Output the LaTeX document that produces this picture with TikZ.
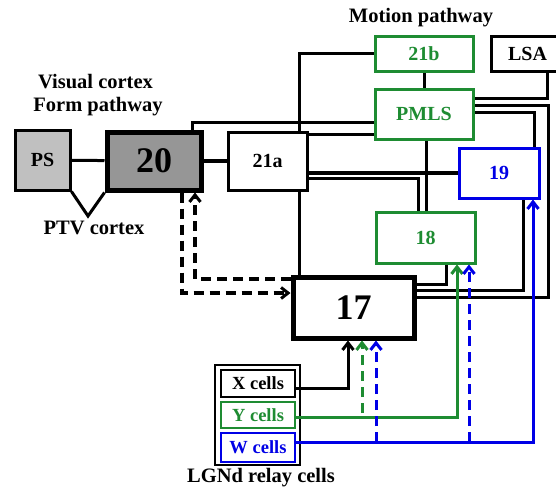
\documentclass[tikz,border=0pt]{standalone}
\usepackage{fontspec}
\setmainfont{Liberation Serif}
\usetikzlibrary{arrows.meta}
\definecolor{pgreen}{RGB}{30,140,50}
\definecolor{pblue}{RGB}{0,0,230}
\definecolor{psgray}{RGB}{192,192,192}
\definecolor{dgray}{RGB}{150,150,150}
\pgfdeclarelayer{bg}
\pgfsetlayers{bg,main}
\tikzset{
  box/.style={draw, line width=3pt, fill=white, inner sep=0pt, font=\fontsize{20}{22}\selectfont\bfseries},
  bigbox/.style={box, line width=5pt, font=\fontsize{36}{40}\selectfont\bfseries},
  gbox/.style={box, draw=pgreen, text=pgreen},
  bbox/.style={box, draw=pblue, text=pblue},
  conn/.style={line width=3pt},
  arr/.style={-{Straight Barb[length=7pt,width=11pt,line width=3pt]}},
  lbl/.style={font=\fontsize{20.5}{22}\selectfont\bfseries, inner sep=0pt},
  dsh/.style={dashed, dash pattern=on 10pt off 6pt},
}
\begin{document}
\begin{tikzpicture}[x=1pt,y=-1pt]
\useasboundingbox (0,0) rectangle (556,491);
% nodes
\node[box, fill=psgray, minimum width=55pt, minimum height=60pt] (ps) at (42.5,160) {PS};
\node[bigbox, fill=dgray, minimum width=94pt, minimum height=58pt] (n20) at (154,161) {20};
\node[box, minimum width=79pt, minimum height=58pt] (n21a) at (267.5,161) {21a};
\node[gbox, minimum width=98pt, minimum height=35pt] (n21b) at (424,53.5) {21b};
\node[box, minimum width=72pt, minimum height=35pt, anchor=west] (nlsa) at (490,53.5) {LSA\hspace{10pt}};
\node[gbox, minimum width=98pt, minimum height=50pt] (npmls) at (424,114) {PMLS};
\node[bbox, minimum width=80pt, minimum height=50pt] (n19) at (499,173) {19};
\node[gbox, minimum width=99pt, minimum height=51pt] (n18) at (425.5,237.5) {18};
\node[bigbox, minimum width=121pt, minimum height=61pt] (n17) at (353.5,307.5) {17};
\node[draw, line width=2.5pt, minimum width=85pt, minimum height=100pt, inner sep=0pt] (lgn) at (257.5,415) {};
\node[box, line width=2.5pt, minimum width=74pt, minimum height=27pt, font=\fontsize{18.5}{20}\selectfont\bfseries] (xc) at (258,383.5) {X cells};
\node[gbox, line width=2.5pt, minimum width=74pt, minimum height=26pt, font=\fontsize{18.5}{20}\selectfont\bfseries] (yc) at (258,415) {Y cells};
\node[bbox, line width=2.5pt, minimum width=74pt, minimum height=29pt, font=\fontsize{18.5}{20}\selectfont\bfseries] (wc) at (258,447.5) {W cells};
% labels
\node[lbl] (t1) at (95.5,82) {Visual cortex};
\node[lbl] (t2) at (98,107) {Form pathway};
\node[lbl] (t3) at (94,228) {PTV cortex};
\node[lbl] (t4) at (421,18) {Motion pathway};
\node[lbl] (t5) at (261,478) {LGNd relay cells};
\coordinate (ptv) at (88,216);
\begin{pgfonlayer}{bg}
\draw[conn] (ps) -- (n20);
\draw[conn] (ps.south east) -- (ptv) -- (n20.south west);
\draw[line width=4.5pt] (n20) -- (n21a);
\draw[conn] (n21b.west) -| (n17.north -| 299,0);
\draw[conn] (n20.north -| 192,0) |- (npmls.west |- 0,122);
\draw[conn] (n21a.east |- 0,134) -- (npmls.west |- 0,134);
\draw[line width=3.8pt] (n21a.east |- 0,173) -- (n19.west |- 0,173);
\draw[conn] (n21a.east |- 0,178) -| (n18.north -| 418,0);
\draw[conn] (npmls.south -| 426,0) -- (n18.north -| 426,0);
\draw[conn] (n21b) -- (npmls);
\draw[conn] (npmls.east |- 0,98) -| (nlsa.south -| 547,0);
\draw[conn] (npmls.east |- 0,105) -| (548,297) -- (n17.east |- 0,297);
\draw[conn] (npmls.east |- 0,112) -| (n19.north -| 534,0);
\draw[conn] (n19.south -| 523,0) |- (n17.east |- 0,290);
\draw[conn] (n18.south -| 446,0) |- (n17.east |- 0,284);
\end{pgfonlayer}
% LGN inputs
\draw[conn, arr] (xc.east |- 0,388) -| (n17.south -| 348,0);
\draw[conn, arr, pgreen] (yc.east |- 0,417) -| (n18.south -| 457,0);
\draw[conn, arr, pblue] (wc.east |- 0,442) -| (n19.south -| 533,0);
\draw[conn, arr, pgreen, dsh] (362,413) -- (n17.south -| 362,0);
\draw[conn, arr, pblue, dsh] (376,442) -- (n17.south -| 376,0);
\draw[conn, arr, pblue, dsh] (469,442) -- (n18.south -| 469,0);
% feedback 20 <-> 17
\draw[line width=4pt, dsh, arr] (n20.south -| 182,0) |- (n17.west |- 0,293);
\draw[line width=4pt, dsh, arr] (n17.west |- 0,279) -| (n20.south -| 195,0);
\end{tikzpicture}
\end{document}
